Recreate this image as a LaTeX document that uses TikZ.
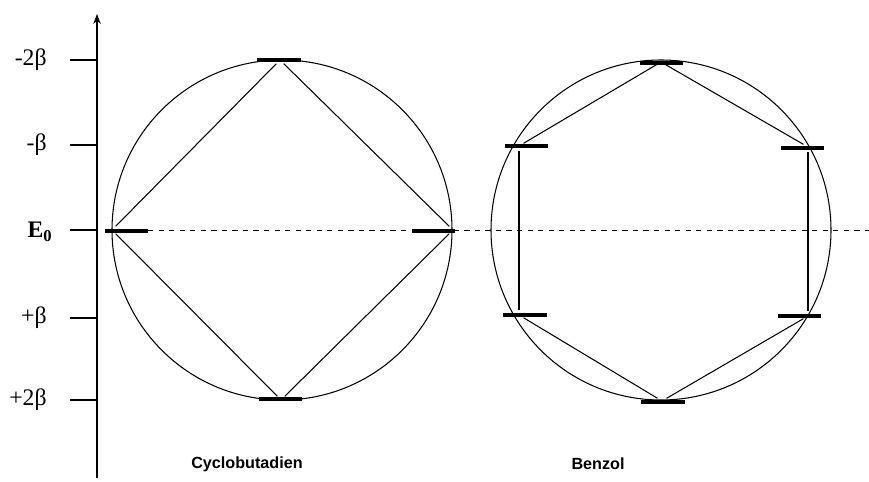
\documentclass[tikz,border=0pt]{standalone}
\usepackage{fontspec}
\setmainfont{Liberation Serif}
\setsansfont{Liberation Sans}
\usetikzlibrary{arrows.meta,calc}
\tikzset {>=Stealth}
\tikzset{level/.style={line width=2.4pt},
  bond/.style={line width=.6pt,shorten >=3,shorten <=3},
  lbl/.style={font=\fontsize{13.5}{15}\selectfont,anchor=east,inner sep=0pt}}

\begin{document}
\begin{tikzpicture}[x=0.02cm,y=-0.02cm]
\useasboundingbox (0,0) rectangle (869,482);
% energy axis
\draw[line width=.6pt,->] (97,478) -- (97,14);
\foreach \y/\t in {60/-2β,145/-β,318/+β,400/+2β}
  {\draw[line width=.6pt] (70,\y) -- (97,\y);
   \node[lbl] at (47,\y) {\t};}
\draw[line width=.6pt] (70,230) -- (97,230);
\node[lbl] at (53,232) {\textbf{E\textsubscript{0}}};
\draw[dashed,line width=.5pt] (148,230) -- (869,230);
% Cyclobutadien
\coordinate (C) at (282,230);
\draw[line width=.6pt] (C) circle (170);
\coordinate (C1) at (280,60);
\coordinate (C2) at (453,230);
\coordinate (C3) at (281,400);
\coordinate (C4) at (112,230);
\draw[bond] (C1) -- (C2);
\draw[bond] (C2) -- (C3);
\draw[bond] (C3) -- (C4);
\draw[bond] (C4) -- (C1);
\draw[level] (257,60) -- (301,60);
\draw[level] (412,231) -- (455,231);
\draw[level] (259,399) -- (302,399);
\draw[level] (105,231) -- (148,231);
\node[font=\sffamily\bfseries\fontsize{9.2}{11}\selectfont] at (247,464) {Cyclobutadien};
% Benzol
\coordinate (B) at (661,230);
\draw[line width=.6pt] (B) circle (170);
\coordinate (B1) at (661,62);
\coordinate (B2) at (808,147);
\coordinate (B3) at (808,316);
\coordinate (B4) at (662,401);
\coordinate (B5) at (519,315);
\coordinate (B6) at (519,146);
\draw[bond] (B1) -- (B2);
\draw[bond] (B2) -- (B3);
\draw[bond] (B3) -- (B4);
\draw[bond] (B4) -- (B5);
\draw[bond] (B5) -- (B6);
\draw[bond] (B6) -- (B1);
\draw[level] (640,63) -- (683,63);
\draw[level] (781,148) -- (824,148);
\draw[level] (778,316) -- (821,316);
\draw[level] (641,402) -- (685,402);
\draw[level] (503,315) -- (547,315);
\draw[level] (505,146) -- (548,146);
\node[font=\sffamily\bfseries\fontsize{9.2}{11}\selectfont] at (598,464) {Benzol};
\end{tikzpicture}
\end{document}
